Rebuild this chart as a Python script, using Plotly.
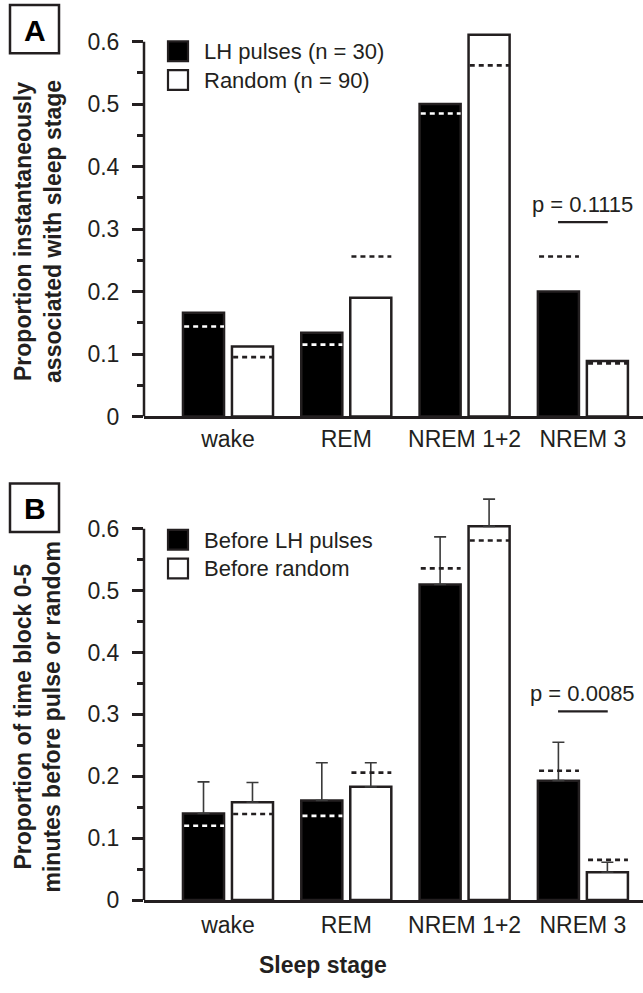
import plotly.graph_objects as go

W, H = 643, 993
FONT = "Liberation Sans, Arial, Helvetica, sans-serif"
INK = "#231f20"

stages = ["wake", "REM", "NREM 1+2", "NREM 3"]

# Panel A
a_lh = [0.166, 0.134, 0.500, 0.200]
a_rand = [0.112, 0.190, 0.611, 0.089]
a_lh_exp = [0.144, 0.115, 0.485, 0.256]
a_rand_exp = [0.095, 0.256, 0.562, 0.085]
a_p_text = "p = 0.1115"
a_p_y = 0.311
a_legend = ["LH pulses (n = 30)", "Random (n = 90)"]

# Panel B
b_lh = [0.140, 0.161, 0.510, 0.193]
b_lh_err = [0.051, 0.061, 0.077, 0.062]
b_rand = [0.158, 0.183, 0.604, 0.045]
b_rand_err = [0.032, 0.039, 0.044, 0.016]
b_lh_exp = [0.120, 0.136, 0.536, 0.209]
b_rand_exp = [0.139, 0.206, 0.581, 0.065]
b_p_text = "p = 0.0085"
b_p_y = 0.305
b_legend = ["Before LH pulses", "Before random"]

ytick_vals = [0, 0.1, 0.2, 0.3, 0.4, 0.5, 0.6]
ytick_text = ["0", "0.1", "0.2", "0.3", "0.4", "0.5", "0.6"]
yminor_vals = [0.05, 0.15, 0.25, 0.35, 0.45, 0.55]

BAR_W = 0.347
SEP = 0.207
idx = list(range(len(stages)))

fig = go.Figure()


def add_panel(xa, ya, lh, rand, lh_exp, rand_exp, lh_err=None, rand_err=None):
    for vals, off, fill, err in [(lh, -SEP, "black", lh_err), (rand, SEP, "white", rand_err)]:
        kw = {}
        if err is not None:
            kw["error_y"] = dict(type="data", array=err, arrayminus=[0] * len(err),
                                 symmetric=False, color="#3a3a3a", thickness=1.6, width=6)
        fig.add_trace(go.Bar(x=idx, y=vals, offset=off - BAR_W / 2, width=BAR_W,
                             marker=dict(color=fill, line=dict(color=INK, width=2.5)),
                             xaxis=xa, yaxis=ya, showlegend=False, hoverinfo="skip", **kw))
    # expected (dashed) lines
    xs_w, ys_w, xs_k, ys_k = [], [], [], []
    for series, exps, off, is_lh in [(lh, lh_exp, -SEP, True), (rand, rand_exp, SEP, False)]:
        for i, (v, e) in enumerate(zip(series, exps)):
            x0 = i + off - BAR_W / 2 + 0.01
            x1 = i + off + BAR_W / 2
            if is_lh and e < v:
                xs_w += [x0, x1, None]; ys_w += [e, e, None]
            else:
                xs_k += [x0, x1, None]; ys_k += [e, e, None]
    for xs, ys, col in [(xs_w, ys_w, "white"), (xs_k, ys_k, INK)]:
        fig.add_trace(go.Scatter(x=xs, y=ys, mode="lines",
                                 line=dict(color=col, width=2.6, dash="5px,4px"),
                                 xaxis=xa, yaxis=ya, showlegend=False, hoverinfo="skip"))


add_panel("x", "y", a_lh, a_rand, a_lh_exp, a_rand_exp)
add_panel("x2", "y2", b_lh, b_rand, b_lh_exp, b_rand_exp, b_lh_err, b_rand_err)

xdom = [144 / W, 1.0]
xrange = [-0.71, 3.508]
yrange = [0, 0.66]

axis_common_x = dict(domain=xdom, range=xrange, tickvals=idx, ticktext=stages,
                     showline=True, linecolor=INK, linewidth=2.5, ticks="",
                     showgrid=False, zeroline=False,
                     tickfont=dict(family=FONT, size=23, color=INK))
axis_common_y = dict(range=yrange, tickvals=ytick_vals, ticktext=ytick_text,
                     ticks="outside", ticklen=11, tickwidth=2.5, tickcolor=INK,
                     showline=False, showgrid=False, zeroline=False,
                     ticklabelstandoff=8,
                     minor=dict(tickvals=yminor_vals, ticks="outside", ticklen=6,
                                tickwidth=2.5, tickcolor=INK, showgrid=False),
                     tickfont=dict(family=FONT, size=23, color=INK))


def py(px):
    return 1 - px / H


fig.update_layout(
    width=W, height=H, margin=dict(l=0, r=0, t=0, b=0),
    paper_bgcolor="white", plot_bgcolor="white", barmode="overlay",
    xaxis=dict(anchor="y", **axis_common_x),
    yaxis=dict(anchor="x", domain=[py(422), py(4.2)], **axis_common_y),
    xaxis2=dict(anchor="y2", ticklabelstandoff=3, **axis_common_x),
    yaxis2=dict(anchor="x2", domain=[py(912), py(498.2)], **axis_common_y),
)

shapes = []
annotations = []

# y axis lines (stop at 0.6)
for xr, yr in [("x domain", "y"), ("x2 domain", "y2")]:
    shapes.append(dict(type="line", xref=xr, yref=yr, x0=0, x1=0, y0=0, y1=0.6,
                       line=dict(color=INK, width=2.5)))

# p-value bars and text
for xr, yr, ptxt, pyv, ty in [("x", "y", a_p_text, a_p_y, 0.34), ("x2", "y2", b_p_text, b_p_y, 0.334)]:
    shapes.append(dict(type="line", xref=xr, yref=yr, x0=3 - 0.21, x1=3 + 0.21, y0=pyv, y1=pyv,
                       line=dict(color=INK, width=2.2)))
    annotations.append(dict(xref=xr, yref=yr, x=3, y=ty, text=ptxt, showarrow=False,
                            xanchor="center", yanchor="middle",
                            font=dict(family=FONT, size=22, color=INK)))

# panel letters
for letter, top in [("A", 5), ("B", 490)]:
    shapes.append(dict(type="rect", xref="paper", yref="paper", x0=10 / W, x1=59 / W,
                       y0=py(top + 49), y1=py(top), line=dict(color=INK, width=2.5),
                       fillcolor="white"))
    annotations.append(dict(xref="paper", yref="paper", x=34.5 / W, y=py(top + 25.5),
                            text="<b>%s</b>" % letter, showarrow=False,
                            xanchor="center", yanchor="middle",
                            font=dict(family=FONT, size=30, color="black")))

# legends (manual)
for labels, tops in [(a_legend, [42, 71]), (b_legend, [537, 566])]:
    for lab, t, fill in zip(labels, tops, ["black", "white"]):
        shapes.append(dict(type="rect", xref="paper", yref="paper", x0=168 / W, x1=188 / W,
                           y0=py(t + 20), y1=py(t), line=dict(color=INK, width=2.2),
                           fillcolor=fill))
        annotations.append(dict(xref="paper", yref="paper", x=202 / W, y=py(t + 10.5),
                                text=lab, showarrow=False, xanchor="left", yanchor="middle",
                                font=dict(family=FONT, size=22, color=INK)))

# y-axis titles
annotations.append(dict(xref="paper", yref="paper", x=38 / W, y=py(235),
                        text="<b>Proportion instantaneously<br>associated with sleep stage</b>",
                        textangle=-90, showarrow=False, xanchor="center", yanchor="middle",
                        font=dict(family=FONT, size=23, color=INK)))
annotations.append(dict(xref="paper", yref="paper", x=38 / W, y=py(727),
                        text="<b>Proportion of time block 0-5<br>minutes before pulse or random</b>",
                        textangle=-90, showarrow=False, xanchor="center", yanchor="middle",
                        font=dict(family=FONT, size=23, color=INK)))
# x title
annotations.append(dict(xref="paper", yref="paper", x=323 / W, y=py(978),
                        text="<b>Sleep stage</b>", showarrow=False,
                        xanchor="center", yanchor="middle",
                        font=dict(family=FONT, size=23, color=INK)))

fig.update_layout(shapes=shapes, annotations=annotations)
fig.write_html(
    "out.html",
    config={"displayModeBar": False},
    post_script="document.body.style.margin='0';document.body.style.padding='0';"
                "document.body.style.overflow='hidden';"
                "document.documentElement.style.overflow='hidden';",
)
